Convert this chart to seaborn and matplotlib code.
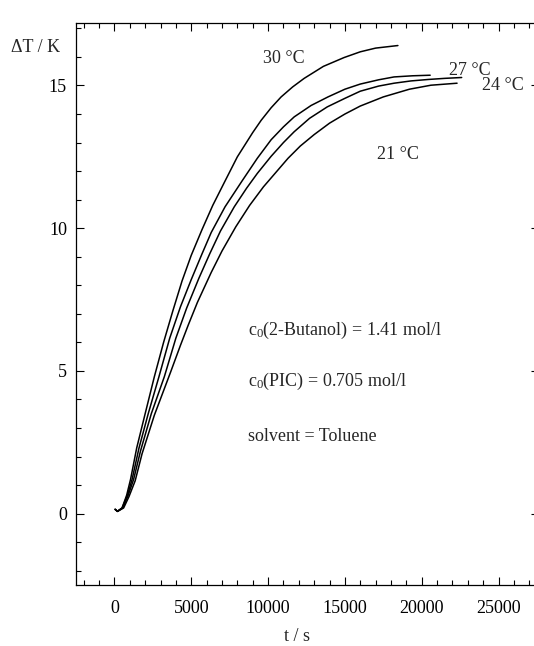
import numpy as np
import pandas as pd
import matplotlib
matplotlib.use("Agg")
import matplotlib.pyplot as plt
import seaborn as sns
from matplotlib.ticker import MultipleLocator

# ---- data ----
t30 = [50, 200, 500, 800, 1050, 1450, 2000, 2600, 3200, 3800, 4400, 5000, 5700, 6400,
       7150, 8000, 9000, 9550, 10200, 10850, 11600, 12350, 13600, 14950, 16000, 17000, 18450]
T30 = [0.15, 0.08, 0.2, 0.65, 1.2, 2.3, 3.5, 4.8, 6.0, 7.1, 8.15, 9.05, 9.95, 10.8,
       11.6, 12.5, 13.35, 13.78, 14.22, 14.6, 14.95, 15.25, 15.67, 15.98, 16.18, 16.31, 16.4]

t27 = [50, 200, 500, 850, 1150, 1600, 2200, 2900, 3600, 4300, 5000, 5700, 6300, 7200,
       8300, 9300, 10200, 11000, 11700, 12800, 13900, 15000, 16000, 17200, 18200, 19400, 20550]
T27 = [0.15, 0.08, 0.2, 0.65, 1.2, 2.3, 3.5, 4.8, 6.15, 7.25, 8.2, 9.1, 9.85, 10.75,
       11.65, 12.45, 13.1, 13.55, 13.9, 14.3, 14.6, 14.87, 15.05, 15.2, 15.3, 15.34, 15.36]

t24 = [50, 200, 550, 900, 1250, 1700, 2400, 3250, 4000, 4700, 5500, 6200, 6900, 7800,
       8600, 9300, 10200, 11000, 11700, 12700, 13850, 15000, 16000, 17200, 18200, 19300,
       20400, 21500, 22600]
T24 = [0.15, 0.08, 0.2, 0.65, 1.2, 2.2, 3.5, 4.8, 6.15, 7.2, 8.25, 9.1, 9.9, 10.75,
       11.4, 11.92, 12.52, 13.0, 13.38, 13.85, 14.25, 14.55, 14.8, 14.98, 15.08, 15.16,
       15.21, 15.25, 15.28]

t21 = [50, 200, 600, 950, 1350, 1800, 2600, 3650, 4300, 4800, 5400, 6300, 7000, 7900,
       8800, 9700, 10500, 11300, 12100, 13000, 14000, 15000, 16000, 17500, 19200, 20600, 22300]
T21 = [0.15, 0.08, 0.2, 0.6, 1.15, 2.1, 3.45, 4.95, 5.9, 6.6, 7.4, 8.45, 9.2, 10.05,
       10.8, 11.45, 11.95, 12.45, 12.88, 13.28, 13.68, 14.0, 14.28, 14.6, 14.87, 15.01, 15.08]

curve_labels = ["30 °C", "27 °C", "24 °C", "21 °C"]
label_t = [11020, 23100, 25310, 18420]
label_T = [15.95, 15.53, 15.0, 12.58]

x_ticks = [0, 5000, 10000, 15000, 20000, 25000]
y_ticks = [0, 5, 10, 15]

notes = ["c$_0$(2-Butanol) = 1.41 mol/l", "c$_0$(PIC) = 0.705 mol/l", "solvent = Toluene"]
notes_T = [6.26, 4.46, 2.53]
notes_t = 8690

df = pd.concat([
    pd.DataFrame({"t": t30, "dT": T30, "curve": "30"}),
    pd.DataFrame({"t": t27, "dT": T27, "curve": "27"}),
    pd.DataFrame({"t": t24, "dT": T24, "curve": "24"}),
    pd.DataFrame({"t": t21, "dT": T21, "curve": "21"}),
], ignore_index=True)

# ---- styling ----
sns.set_style("ticks")
plt.rcParams["font.family"] = ["Liberation Serif", "DejaVu Serif"]
plt.rcParams["mathtext.fontset"] = "custom"
plt.rcParams["mathtext.rm"] = "Liberation Serif"
plt.rcParams["mathtext.it"] = "Liberation Serif:italic"

W, H = 534, 646
fig = plt.figure(figsize=(W / 100, H / 100), dpi=100)
fig.patch.set_facecolor("white")
left, right, top, bottom = 76, 538.5, 22.7, 585
ax = fig.add_axes([left / W, 1 - bottom / H, (right - left) / W, (bottom - top) / H])

for c in ["30", "27", "24", "21"]:
    sns.lineplot(data=df[df["curve"] == c], x="t", y="dT", estimator=None, sort=False,
                 color="black", lw=1.1, ax=ax, legend=False)

ax.set_xlim(-2500, 27600)
ax.set_ylim(-2.5, 17.2)
ax.set_xticks(x_ticks)
ax.set_yticks(y_ticks)
ax.xaxis.set_minor_locator(MultipleLocator(1000))
ax.yaxis.set_minor_locator(MultipleLocator(1))
ax.tick_params(which="both", direction="in", top=True, right=True, color="black",
               width=0.8, labelsize=13, labelcolor="black")
ax.tick_params(which="major", length=6)
ax.tick_params(which="minor", length=3.6)
ax.tick_params(axis="x", pad=11)
ax.tick_params(axis="y", pad=6.5)
for s in ax.spines.values():
    s.set_linewidth(0.9)
    s.set_color("black")
ax.set_xlabel("")
ax.set_ylabel("")

for lab, tx, ty in zip(curve_labels, label_t, label_T):
    ax.text(tx, ty, lab, ha="center", va="center", fontsize=13)

for n, ty in zip(notes, notes_T):
    ax.text(notes_t, ty, n, ha="left", va="baseline", fontsize=13)

fig.text(36 / W, 1 - 48 / H, "ΔT / K", ha="center", va="center", fontsize=13)
fig.text(297 / W, 1 - 645 / H, "t / s", ha="center", va="bottom", fontsize=13)

fig.savefig("out.png", dpi=100, facecolor="white")
